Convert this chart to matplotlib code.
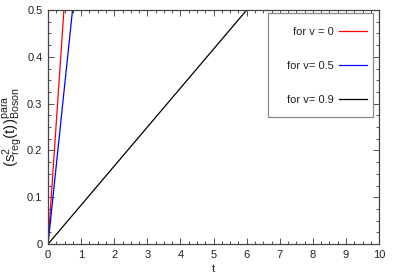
import matplotlib
matplotlib.use("Agg")
import matplotlib.pyplot as plt
from matplotlib.patches import Rectangle
from matplotlib.ticker import AutoMinorLocator

# values
t_v0 = [0.0, 0.48]
s_v0 = [0.0, 0.5]
t_v05 = [0.0, 0.74]
s_v05 = [0.0, 0.5]
t_v09 = [0.0, 6.0]
s_v09 = [0.0, 0.5]
labels = ["for v = 0", "for v= 0.5", "for v= 0.9"]
colors = ["red", "blue", "black"]

plt.rcParams["font.family"] = ["Liberation Sans", "DejaVu Sans"]
plt.rcParams["mathtext.fontset"] = "custom"
plt.rcParams["mathtext.rm"] = "Liberation Sans"
plt.rcParams["mathtext.it"] = "Liberation Sans"
plt.rcParams["font.size"] = 8

fig = plt.figure(figsize=(3.97, 2.78), dpi=100)
ax = fig.add_axes([0.121, 0.122, 0.834, 0.842])

for t, s, lab, c in zip([t_v0, t_v05, t_v09], [s_v0, s_v05, s_v09], labels, colors):
    ax.plot(t, s, color=c, lw=0.9, label=lab)

ax.set_xlim(0, 10)
ax.set_ylim(0, 0.5)
ax.set_xticks(range(0, 11))
ax.set_yticks([0, 0.1, 0.2, 0.3, 0.4, 0.5])
ax.set_yticklabels(["0", "0.1", "0.2", "0.3", "0.4", "0.5"])
ax.xaxis.set_minor_locator(AutoMinorLocator(4))
ax.yaxis.set_minor_locator(AutoMinorLocator(4))
ax.tick_params(which="both", direction="in", top=True, right=True, colors="#333333",
               labelcolor="#222222", width=0.6)
ax.tick_params(which="major", length=4, pad=4)
ax.tick_params(which="minor", length=2)
for sp in ax.spines.values():
    sp.set_color("#444444")
    sp.set_linewidth(0.9)

ax.set_xlabel("t", labelpad=3, color="#222222")
ax.set_ylabel(r"$(\mathrm{s}^2_{\mathrm{reg}}(\mathrm{t}))^{\mathrm{para}}_{\mathrm{Boson}}$",
              fontsize=11, labelpad=2, color="#222222")

# legend box drawn separately so the padding can be uneven, as in the reference
ax.add_patch(Rectangle((0.665, 0.543), 0.317, 0.444, transform=ax.transAxes,
                       facecolor="white", edgecolor="#888888", lw=0.9, zorder=3))
leg = ax.legend(loc="upper right", markerfirst=False, labelspacing=2.18, handlelength=2.5,
                handletextpad=0.55, borderpad=0, borderaxespad=0, frameon=False,
                bbox_to_anchor=(0.964, 0.928))
leg.set_zorder(4)
for txt in leg.get_texts():
    txt.set_color("#222222")

fig.savefig("out.png", dpi=100)
